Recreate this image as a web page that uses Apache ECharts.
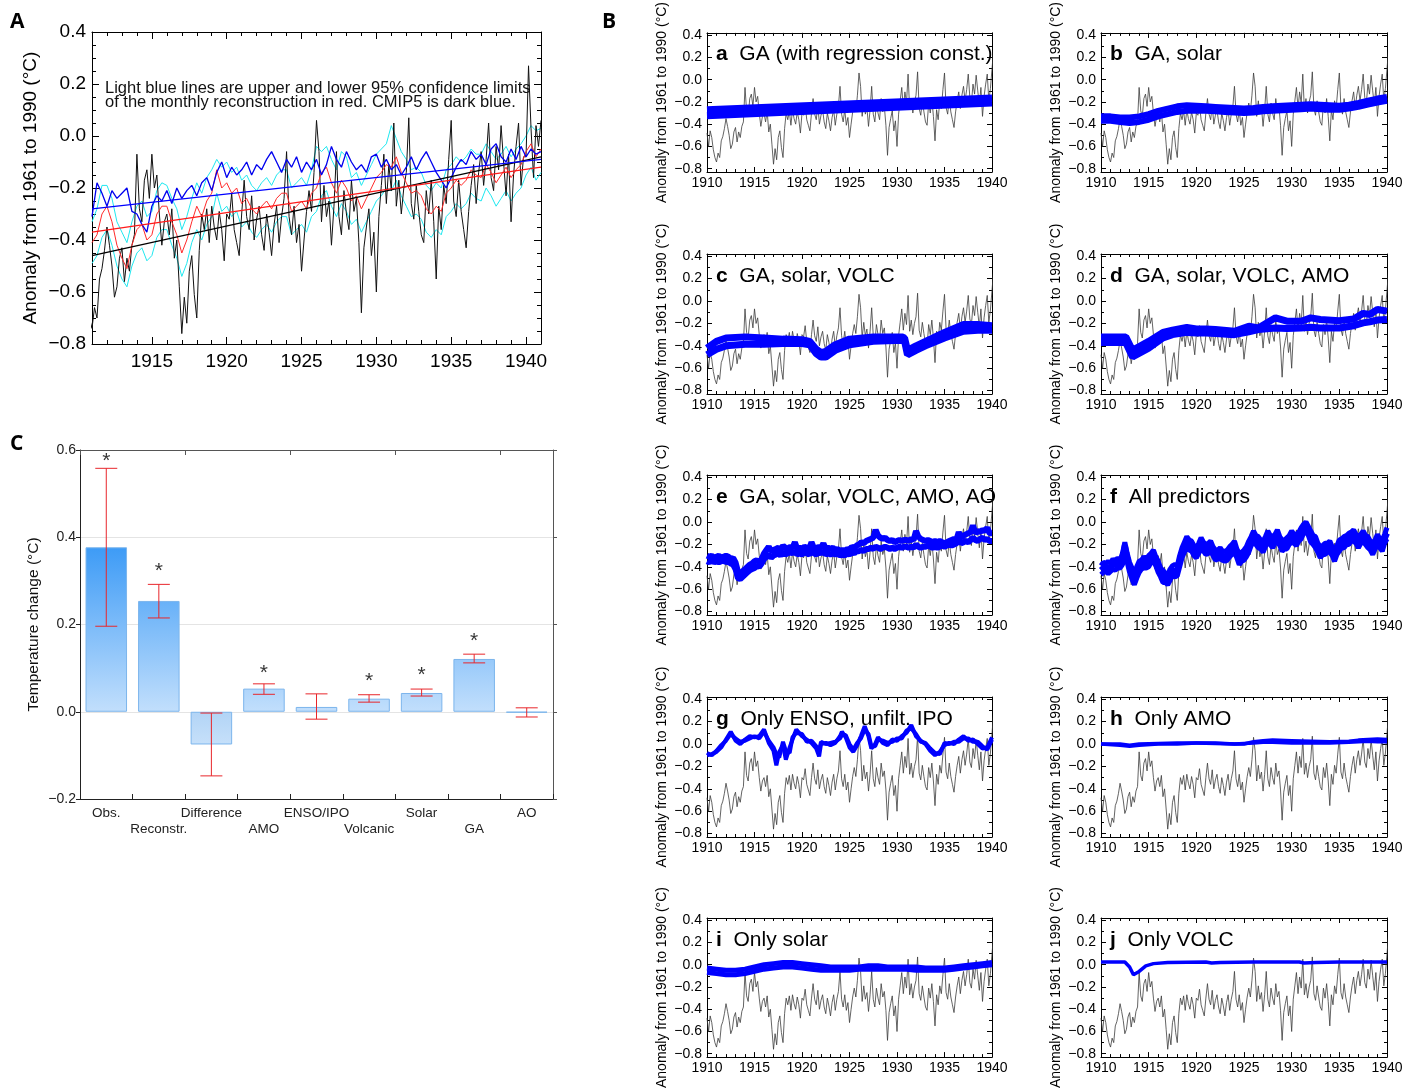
<!DOCTYPE html>
<html><head><meta charset="utf-8">
<script src="https://cdn.jsdelivr.net/npm/echarts@6/dist/echarts.min.js"></script>
<style>html,body{margin:0;padding:0;background:#fff}#c{width:1412px;height:1090px}</style>
</head><body><div id="c"></div>
<script>
// ---------------- DATA ----------------
// observed monthly-ish anomaly (6 samples per year from 1910.0)
const obsStart = 1910, obsPerYear = 6;
const obs = [
 -0.48,-0.60,-0.46,-0.52,-0.63,-0.70,
 -0.74,-0.66,-0.70,-0.55,-0.51,-0.44,
 -0.35,-0.42,-0.50,-0.62,-0.58,-0.47,
 -0.43,-0.56,-0.47,-0.52,-0.42,-0.38,
 -0.07,-0.28,-0.33,-0.17,-0.13,-0.24,
 -0.07,-0.20,-0.15,-0.30,-0.42,-0.33,
 -0.30,-0.38,-0.28,-0.47,-0.40,-0.58,
 -0.76,-0.62,-0.72,-0.52,-0.46,-0.61,
 -0.70,-0.44,-0.30,-0.36,-0.28,-0.41,
 -0.27,-0.35,-0.40,-0.29,-0.36,-0.48,
 -0.30,-0.32,-0.22,-0.36,-0.41,-0.46,
 -0.30,-0.17,-0.31,-0.36,-0.23,-0.40,
 -0.32,-0.27,-0.38,-0.44,-0.30,-0.37,
 -0.46,-0.34,-0.27,-0.41,-0.31,-0.24,
 -0.06,-0.31,-0.38,-0.27,-0.41,-0.34,
 -0.52,-0.40,-0.29,-0.21,-0.29,-0.14,
  0.06,-0.06,-0.33,-0.19,-0.31,-0.25,
 -0.42,-0.27,-0.06,-0.31,-0.38,-0.21,
 -0.30,-0.36,-0.17,-0.29,-0.24,-0.41,
 -0.68,-0.43,-0.35,-0.28,-0.46,-0.37,
 -0.60,-0.31,-0.19,-0.07,-0.26,-0.11,
 -0.21, 0.05,-0.27,-0.17,-0.30,-0.20,
 -0.14, 0.07,-0.26,-0.32,-0.19,-0.29,
 -0.38,-0.41,-0.21,-0.30,-0.17,-0.33,
 -0.55,-0.27,-0.36,-0.19,-0.26,-0.09,
  0.06,-0.25,-0.31,-0.17,-0.29,-0.36,
 -0.43,-0.29,-0.19,-0.11,-0.26,-0.14,
 -0.06,-0.19,-0.09, 0.05,-0.16,-0.21,
 -0.04,-0.13, 0.04,-0.10,-0.23,-0.07,
 -0.33,-0.15,-0.04, 0.05,-0.19,-0.08,
 -0.08, 0.27, 0.03,-0.16, 0.04,-0.04,
  0.06
];
// Panel A (3 samples per year from 1911.0)
const aStart = 1911, aPerYear = 3;
const recRed = [
 -0.41,-0.38,-0.30, -0.27,-0.33,-0.42, -0.47,-0.51,-0.42, -0.36,-0.34,-0.40,
 -0.38,-0.30,-0.27, -0.27,-0.33,-0.38, -0.45,-0.40,-0.33, -0.27,-0.31,-0.25,
 -0.22,-0.13,-0.20, -0.18,-0.22,-0.20, -0.26,-0.24,-0.28, -0.30,-0.27,-0.25,
 -0.28,-0.24,-0.22, -0.22,-0.29,-0.27, -0.25,-0.28,-0.22, -0.20,-0.14,-0.12,
 -0.18,-0.22,-0.17, -0.20,-0.25,-0.23, -0.28,-0.24,-0.20, -0.16,-0.14,-0.11,
 -0.12,-0.08,-0.14, -0.18,-0.22,-0.21, -0.23,-0.28,-0.30, -0.27,-0.29,-0.22,
 -0.20,-0.17,-0.19, -0.17,-0.13,-0.15, -0.16,-0.11,-0.14, -0.18,-0.15,-0.12,
 -0.16,-0.13,-0.11, -0.06,-0.03,-0.08, -0.05
];
const ciHi = [
 -0.33,-0.28,-0.19, -0.19,-0.24,-0.33, -0.37,-0.41,-0.33, -0.27,-0.25,-0.31,
 -0.29,-0.21,-0.18, -0.19,-0.24,-0.28, -0.36,-0.31,-0.24, -0.18,-0.22,-0.16,
 -0.13,-0.09,-0.12, -0.10,-0.14,-0.12, -0.17,-0.15,-0.19, -0.21,-0.18,-0.16,
 -0.19,-0.15,-0.13, -0.13,-0.20,-0.18, -0.16,-0.19,-0.13, -0.04,-0.06,-0.04,
 -0.09,-0.13,-0.06, -0.08,-0.16,-0.14, -0.19,-0.15,-0.11, -0.07,-0.05,-0.03,
  0.04,-0.01,-0.06, -0.09,-0.13,-0.12, -0.14,-0.19,-0.21, -0.18,-0.20,-0.13,
 -0.11,-0.08,-0.10, -0.08,-0.05,-0.07, -0.07,-0.03,-0.06, -0.09,-0.07,-0.04,
 -0.08,-0.05,-0.03,  0.00, 0.04, 0.02, 0.03
];
const ciLo = [
 -0.49,-0.46,-0.39, -0.36,-0.42,-0.50, -0.55,-0.58,-0.50, -0.45,-0.43,-0.48,
 -0.46,-0.39,-0.36, -0.36,-0.42,-0.47, -0.54,-0.49,-0.41, -0.36,-0.40,-0.34,
 -0.31,-0.22,-0.29, -0.27,-0.31,-0.29, -0.35,-0.33,-0.37, -0.39,-0.36,-0.34,
 -0.37,-0.33,-0.31, -0.31,-0.38,-0.36, -0.34,-0.37,-0.31, -0.29,-0.23,-0.21,
 -0.27,-0.31,-0.26, -0.29,-0.34,-0.32, -0.37,-0.33,-0.29, -0.25,-0.23,-0.20,
 -0.21,-0.17,-0.23, -0.27,-0.31,-0.30, -0.32,-0.37,-0.39, -0.36,-0.38,-0.31,
 -0.29,-0.26,-0.28, -0.26,-0.22,-0.24, -0.25,-0.20,-0.23, -0.27,-0.24,-0.21,
 -0.25,-0.22,-0.20, -0.15,-0.12,-0.17, -0.14
];
const cmip5 = [
 -0.31,-0.18,-0.22, -0.27,-0.21,-0.24, -0.22,-0.20,-0.29, -0.30,-0.34,-0.37,
 -0.27,-0.23,-0.25, -0.21,-0.26,-0.20, -0.24,-0.21,-0.19, -0.23,-0.18,-0.16,
 -0.21,-0.14,-0.10, -0.16,-0.12,-0.15, -0.13,-0.10,-0.15, -0.11,-0.13,-0.09,
 -0.06,-0.10,-0.14, -0.09,-0.12,-0.08, -0.14,-0.10,-0.13, -0.09,-0.15,-0.11,
 -0.04,-0.09,-0.12, -0.06,-0.10,-0.13, -0.11,-0.14,-0.08, -0.07,-0.12,-0.09,
 -0.13,-0.11,-0.15, -0.12,-0.08,-0.13, -0.09,-0.06,-0.10, -0.14,-0.17,-0.20,
 -0.16,-0.12,-0.09, -0.11,-0.06,-0.09, -0.07,-0.11,-0.05, -0.03,-0.08,-0.10,
 -0.05,-0.09,-0.04, -0.08,-0.05,-0.07, -0.06
];
const trendYears = [1911, 1941];
const trendObs = [-0.46, -0.08];
const trendRec = [-0.37, -0.12];
const trendCmip = [-0.28, -0.09];

// Panel B ensembles
const aYears = [1910, 1940];
const a1 = [-0.27, -0.165];
const a2 = [-0.325, -0.21];

const yearly = [1910,1911,1912,1913,1914,1915,1916,1917,1918,1919,1920,1921,1922,1923,1924,1925,1926,1927,1928,1929,1930,1931,1932,1933,1934,1935,1936,1937,1938,1939,1940];
const b1 = [-0.33,-0.33,-0.34,-0.34,-0.33,-0.31,-0.28,-0.26,-0.24,-0.23,-0.235,-0.24,-0.245,-0.25,-0.255,-0.26,-0.255,-0.245,-0.24,-0.235,-0.23,-0.225,-0.22,-0.225,-0.23,-0.235,-0.225,-0.21,-0.19,-0.17,-0.155];
const b2 = [-0.37,-0.37,-0.38,-0.39,-0.38,-0.36,-0.33,-0.31,-0.29,-0.28,-0.28,-0.28,-0.285,-0.29,-0.295,-0.30,-0.295,-0.285,-0.28,-0.275,-0.27,-0.265,-0.26,-0.265,-0.27,-0.27,-0.26,-0.245,-0.225,-0.205,-0.19];

const cYears = [1910,1911,1912,1914,1916,1918,1920,1920.8,1921.5,1922,1922.5,1923.5,1925,1927.5,1930.5,1930.8,1931.1,1932,1933,1935,1937,1938.5,1940];
const c1 = [-0.42,-0.36,-0.33,-0.32,-0.33,-0.34,-0.345,-0.36,-0.43,-0.46,-0.45,-0.39,-0.34,-0.32,-0.32,-0.33,-0.44,-0.40,-0.36,-0.28,-0.21,-0.21,-0.22];
const c2 = [-0.48,-0.43,-0.40,-0.385,-0.385,-0.38,-0.38,-0.39,-0.47,-0.50,-0.50,-0.44,-0.39,-0.36,-0.35,-0.36,-0.48,-0.44,-0.40,-0.33,-0.27,-0.26,-0.26];

const dYears = [1910,1912.6,1913.3,1915,1916.5,1917.5,1919,1920,1921,1922,1924,1925.5,1926.5,1928.3,1929.5,1931,1932,1933,1935,1936.5,1937.5,1938.2,1939,1940];
const d1 = [-0.32,-0.32,-0.44,-0.36,-0.28,-0.26,-0.235,-0.25,-0.25,-0.255,-0.27,-0.225,-0.24,-0.15,-0.18,-0.18,-0.15,-0.165,-0.175,-0.16,-0.11,-0.12,-0.075,-0.09];
const d2 = [-0.37,-0.37,-0.50,-0.42,-0.33,-0.30,-0.28,-0.285,-0.285,-0.29,-0.30,-0.275,-0.255,-0.24,-0.245,-0.24,-0.235,-0.24,-0.24,-0.22,-0.195,-0.185,-0.17,-0.165];

// quarterly (4 per year from 1910.0)
const qStart = 1910, qPerYear = 4;
const e1 = [
 -0.30,-0.31,-0.30,-0.32, -0.31,-0.30,-0.32,-0.31, -0.30,-0.31,-0.33,-0.32, -0.36,-0.44,-0.46,-0.44,
 -0.42,-0.40,-0.38,-0.37, -0.35,-0.34,-0.36,-0.33, -0.28,-0.25,-0.22,-0.26, -0.25,-0.24,-0.23,-0.25,
 -0.21,-0.23,-0.24,-0.22, -0.23,-0.18,-0.24,-0.23, -0.24,-0.22,-0.23,-0.24, -0.18,-0.23,-0.24,-0.22,
 -0.23,-0.19,-0.24,-0.23, -0.24,-0.23,-0.25,-0.24, -0.26,-0.25,-0.26,-0.24, -0.25,-0.22,-0.23,-0.21,
 -0.20,-0.18,-0.19,-0.17, -0.16,-0.15,-0.14,-0.07, -0.12,-0.14,-0.15,-0.14, -0.16,-0.17,-0.16,-0.18,
 -0.17,-0.16,-0.17,-0.16, -0.16,-0.17,-0.15,-0.16, -0.08,-0.13,-0.15,-0.16, -0.17,-0.16,-0.17,-0.18,
 -0.17,-0.18,-0.17,-0.18, -0.19,-0.18,-0.17,-0.16, -0.15,-0.16,-0.09,-0.14, -0.12,-0.11,-0.10,-0.09,
 -0.03,-0.10,-0.08,-0.09, -0.07,-0.08,-0.05,-0.10, -0.10
];
const e2 = [
 -0.35,-0.36,-0.34,-0.36, -0.35,-0.36,-0.35,-0.34, -0.36,-0.35,-0.37,-0.38, -0.42,-0.50,-0.51,-0.49,
 -0.47,-0.45,-0.43,-0.42, -0.41,-0.39,-0.40,-0.37, -0.33,-0.31,-0.29,-0.32, -0.30,-0.29,-0.28,-0.30,
 -0.27,-0.29,-0.28,-0.27, -0.28,-0.26,-0.29,-0.28, -0.29,-0.27,-0.28,-0.29, -0.26,-0.28,-0.29,-0.27,
 -0.28,-0.26,-0.29,-0.28, -0.29,-0.28,-0.29,-0.28, -0.30,-0.29,-0.30,-0.28, -0.29,-0.27,-0.28,-0.26,
 -0.26,-0.25,-0.26,-0.24, -0.24,-0.23,-0.24,-0.22, -0.23,-0.24,-0.23,-0.22, -0.23,-0.24,-0.23,-0.24,
 -0.23,-0.22,-0.23,-0.22, -0.22,-0.23,-0.22,-0.23, -0.20,-0.22,-0.23,-0.22, -0.22,-0.21,-0.22,-0.23,
 -0.22,-0.23,-0.22,-0.21, -0.22,-0.21,-0.20,-0.21, -0.20,-0.19,-0.16,-0.19, -0.18,-0.17,-0.18,-0.16,
 -0.14,-0.16,-0.17,-0.15, -0.14,-0.16,-0.15,-0.17, -0.17
];
const fMid = [
 -0.43,-0.41,-0.40,-0.41, -0.40,-0.38,-0.38,-0.37, -0.37,-0.33,-0.21,-0.32, -0.40,-0.46,-0.52,-0.45,
 -0.40,-0.38,-0.36,-0.37, -0.35,-0.32,-0.30,-0.35, -0.40,-0.45,-0.49,-0.50, -0.52,-0.47,-0.43,-0.44,
 -0.43,-0.35,-0.28,-0.22, -0.18,-0.20,-0.22,-0.25, -0.28,-0.23,-0.19,-0.22, -0.25,-0.23,-0.22,-0.26,
 -0.30,-0.29,-0.28,-0.30, -0.31,-0.29,-0.27,-0.24, -0.22,-0.28,-0.33,-0.31, -0.30,-0.26,-0.22,-0.17,
 -0.13,-0.16,-0.18,-0.20, -0.22,-0.17,-0.13,-0.16, -0.18,-0.15,-0.12,-0.17, -0.21,-0.20,-0.19,-0.16,
 -0.13,-0.15,-0.16,-0.13, -0.10,-0.06,-0.03,-0.08, -0.13,-0.16,-0.18,-0.23, -0.27,-0.25,-0.24,-0.23,
 -0.22,-0.26,-0.30,-0.25, -0.21,-0.19,-0.18,-0.16, -0.15,-0.13,-0.12,-0.15, -0.18,-0.15,-0.13,-0.16,
 -0.18,-0.21,-0.24,-0.20, -0.16,-0.19,-0.21,-0.15, -0.10
];
const f1 = [
 -0.39,-0.36,-0.37,-0.35, -0.37,-0.33,-0.35,-0.32, -0.34,-0.28,-0.18,-0.28, -0.36,-0.41,-0.47,-0.40,
 -0.35,-0.34,-0.31,-0.33, -0.30,-0.28,-0.25,-0.31, -0.35,-0.41,-0.43,-0.46, -0.47,-0.42,-0.39,-0.38,
 -0.39,-0.30,-0.23,-0.18, -0.13,-0.16,-0.17,-0.21, -0.23,-0.19,-0.14,-0.18, -0.20,-0.19,-0.17,-0.22,
 -0.25,-0.25,-0.23,-0.26, -0.26,-0.25,-0.22,-0.20, -0.17,-0.24,-0.28,-0.27, -0.25,-0.22,-0.17,-0.13,
 -0.08,-0.12,-0.13,-0.16, -0.17,-0.13,-0.08,-0.12, -0.13,-0.11,-0.07,-0.13, -0.16,-0.16,-0.14,-0.12,
 -0.08,-0.11,-0.11,-0.09, -0.05,-0.02, 0.00,-0.04, -0.08,-0.12,-0.13,-0.19, -0.22,-0.21,-0.19,-0.19,
 -0.17,-0.22,-0.25,-0.21, -0.16,-0.15,-0.13,-0.12, -0.10,-0.09,-0.07,-0.11, -0.13,-0.11,-0.08,-0.12,
 -0.13,-0.17,-0.19,-0.16, -0.11,-0.15,-0.16,-0.11, -0.05
];
const f2 = [
 -0.47,-0.45,-0.44,-0.46, -0.44,-0.42,-0.43,-0.41, -0.41,-0.38,-0.26,-0.36, -0.45,-0.51,-0.56,-0.50,
 -0.45,-0.42,-0.41,-0.41, -0.40,-0.36,-0.35,-0.39, -0.45,-0.49,-0.54,-0.54, -0.56,-0.52,-0.47,-0.49,
 -0.48,-0.40,-0.32,-0.27, -0.23,-0.25,-0.26,-0.30, -0.32,-0.28,-0.24,-0.26, -0.29,-0.28,-0.26,-0.30,
 -0.34,-0.33,-0.33,-0.34, -0.35,-0.34,-0.31,-0.29, -0.27,-0.32,-0.38,-0.35, -0.34,-0.31,-0.27,-0.21,
 -0.18,-0.20,-0.23,-0.24, -0.27,-0.22,-0.18,-0.20, -0.23,-0.19,-0.17,-0.21, -0.26,-0.24,-0.24,-0.20,
 -0.18,-0.19,-0.21,-0.17, -0.15,-0.10,-0.07,-0.12, -0.18,-0.20,-0.23,-0.27, -0.32,-0.29,-0.29,-0.27,
 -0.27,-0.30,-0.35,-0.29, -0.26,-0.23,-0.23,-0.20, -0.20,-0.17,-0.17,-0.19, -0.23,-0.19,-0.18,-0.20,
 -0.23,-0.25,-0.29,-0.24, -0.21,-0.23,-0.26,-0.19, -0.15
];

const gYears = [1910,1910.5,1911,1911.5,1912,1912.5,1913,1913.5,1914,1914.5,
 1915,1915.5,1916,1916.5,1917,1917.3,1917.6,1918,1918.3,1918.7,
 1919,1919.4,1920,1920.5,1921,1921.5,1921.8,1922,1922.5,1923,
 1923.5,1924,1924.2,1924.6,1925,1925.4,1925.8,1926.2,1926.6,1927,
 1927.3,1927.7,1928,1928.5,1929,1929.5,1930,1930.5,1931,1931.5,
 1932,1932.5,1933,1933.5,1934,1934.5,1935,1935.5,1936,1936.5,
 1937,1937.5,1938,1938.5,1939,1939.5,1940];
const g1 = [-0.10,-0.09,-0.07,-0.03,0.04,0.11,0.03,0.00,0.04,0.07,
 0.06,0.07,0.13,0.01,-0.06,-0.19,-0.07,-0.01,-0.14,-0.03,
 0.04,0.13,0.07,0.04,0.01,-0.04,-0.11,0.00,0.01,-0.01,
 0.01,0.07,0.11,0.06,-0.03,-0.07,-0.01,0.07,0.16,0.07,
 -0.04,0.00,0.06,0.01,-0.01,0.04,0.03,0.07,0.10,0.17,
 0.07,0.03,0.00,-0.06,-0.10,-0.07,-0.01,0.01,0.00,0.04,
 0.07,0.03,0.04,0.00,-0.04,-0.03,0.06];
const g2 = [-0.08,-0.10,-0.06,-0.01,0.03,0.09,0.05,0.02,0.03,0.05,
 0.07,0.05,0.11,0.03,-0.03,-0.09,-0.12,0.02,-0.06,-0.08,
 0.06,0.10,0.09,0.02,0.03,-0.02,-0.06,0.02,0.00,0.01,
 0.02,0.05,0.08,0.08,0.00,-0.05,0.01,0.05,0.13,0.09,
 -0.02,-0.02,0.04,0.03,0.01,0.02,0.05,0.05,0.12,0.14,
 0.09,0.02,0.01,-0.04,-0.08,-0.09,0.01,0.00,0.02,0.02,
 0.05,0.05,0.02,0.02,-0.02,-0.05,0.04];

const hYears = [1910,1912,1913,1914,1916,1918,1920,1922,1924,1925,1926,1927,1928,1930,1932,1934,1936,1937,1938,1939,1940];
const h1 = [0.00,-0.01,-0.02,-0.01,0.00,0.00,0.01,0.01,0.00,0.00,0.02,0.03,0.035,0.03,0.025,0.02,0.025,0.035,0.04,0.045,0.04];
const h2 = [0.00,0.00,-0.01,0.00,0.005,0.01,0.01,0.005,0.00,0.005,0.01,0.015,0.015,0.01,0.01,0.01,0.015,0.02,0.025,0.02,0.02];

const i1 = [-0.03,-0.04,-0.05,-0.05,-0.04,-0.02,0.00,0.01,0.02,0.02,0.01,0.00,-0.01,-0.02,-0.02,-0.02,-0.02,-0.01,-0.01,-0.02,-0.02,-0.02,-0.02,-0.03,-0.03,-0.03,-0.02,-0.01,0.00,0.01,0.02];
const i2 = [-0.07,-0.08,-0.09,-0.09,-0.08,-0.06,-0.04,-0.03,-0.02,-0.02,-0.03,-0.04,-0.05,-0.05,-0.05,-0.05,-0.04,-0.04,-0.04,-0.04,-0.04,-0.04,-0.05,-0.05,-0.05,-0.05,-0.04,-0.03,-0.02,-0.01,0.00];

const jYears = [1910,1912.5,1913,1913.4,1914,1914.7,1915.5,1917,1921,1921.6,1922.5,1926,1930.8,1931.3,1932.5,1935,1940];
const j1 = [0.025,0.025,-0.02,-0.09,-0.06,-0.01,0.01,0.02,0.025,0.015,0.02,0.025,0.025,0.015,0.02,0.025,0.025];

const panelLetters = ['a','b','c','d','e','f','g','h','i','j'];
const panelTitles = ['GA (with regression const.)','GA, solar','GA, solar, VOLC','GA, solar, VOLC, AMO',
  'GA, solar, VOLC, AMO, AO','All predictors','Only ENSO, unfilt. IPO','Only AMO','Only solar','Only VOLC'];

// Panel C
const barCats = ['Obs.','Reconstr.','Difference','AMO','ENSO/IPO','Volcanic','Solar','GA','AO'];
const barVals = [0.377, 0.254, -0.075, 0.053, 0.011, 0.030, 0.043, 0.121, -0.002];
const errLo = [0.196, 0.215, -0.147, 0.040, -0.017, 0.022, 0.036, 0.112, -0.012];
const errHi = [0.558, 0.292, -0.003, 0.064, 0.041, 0.039, 0.052, 0.132, 0.009];
const starY = [0.588, 0.337, null, 0.103, null, 0.084, 0.098, 0.175, null];

const yTicksA = [-0.8,-0.6,-0.4,-0.2,0,0.2,0.4];
const xTicksA = [1915,1920,1925,1930,1935,1940];
const yTicksB = [-0.8,-0.6,-0.4,-0.2,0,0.2,0.4];
const xTicksB = [1910,1915,1920,1925,1930,1935,1940];

// ---------------- BUILD ----------------
const FF = '"Liberation Sans", Arial, sans-serif';
const regYears = (s, p, n) => Array.from({length:n}, (_, k) => s + k / p);
const pairs = (xs, ys) => ys.map((v, k) => [xs[k], v]);
const fmt = v => (Math.abs(v) < 1e-9 ? '0.0' : v.toFixed(1)).replace('-', '\u2212');
const range = (a, b, s) => { const r = []; for (let v = a; v <= b + 1e-9; v += s) r.push(Math.round(v * 1000) / 1000); return r; };

const grids = [], xAxes = [], yAxes = [], series = [], titles = [];

function addFrame(o) {
  const gi = grids.length;
  grids.push({left: o.left, top: o.top, width: o.width, height: o.height});
  const xi = xAxes.length, yi = yAxes.length;
  const lineOn = {show: true, onZero: false, lineStyle: {color: '#000', width: 1}};
  const lineOff = {show: false, onZero: false};
  const tick = (vals, len) => ({show: true, inside: true, length: len, customValues: vals, lineStyle: {color: '#000', width: 1}});
  const base = (isX) => ({gridIndex: gi, type: 'value', min: isX ? o.xmin : o.ymin, max: isX ? o.xmax : o.ymax,
    splitLine: {show: false}, axisPointer: {show: false}});
  xAxes.push(Object.assign(base(true), {position: 'bottom', axisLine: lineOn, axisTick: tick(o.xMajor, o.majLen),
    axisLabel: {show: true, customValues: o.xMajor, fontSize: o.fs, fontFamily: FF, color: '#000', margin: o.xMargin,
      formatter: v => String(Math.round(v))}}));
  xAxes.push(Object.assign(base(true), {position: 'bottom', axisLine: lineOff, axisTick: tick(o.xMinor, o.minLen), axisLabel: {show: false}}));
  xAxes.push(Object.assign(base(true), {position: 'top', axisLine: lineOn, axisTick: tick(o.xMajor, o.majLen), axisLabel: {show: false}}));
  xAxes.push(Object.assign(base(true), {position: 'top', axisLine: lineOff, axisTick: tick(o.xMinor, o.minLen), axisLabel: {show: false}}));
  yAxes.push(Object.assign(base(false), {position: 'left', axisLine: lineOn, axisTick: tick(o.yMajor, o.majLen),
    axisLabel: {show: true, customValues: o.yMajor, fontSize: o.fs, fontFamily: FF, color: '#000', margin: o.yMargin, formatter: fmt},
    name: o.yName, nameLocation: 'middle', nameGap: o.nameGap, nameRotate: 90,
    nameTextStyle: {fontSize: o.nameFs, fontFamily: FF, color: '#000'}}));
  yAxes.push(Object.assign(base(false), {position: 'left', axisLine: lineOff, axisTick: tick(o.yMinor, o.minLen), axisLabel: {show: false}}));
  yAxes.push(Object.assign(base(false), {position: 'right', axisLine: lineOn, axisTick: tick(o.yMajor, o.majLen), axisLabel: {show: false}}));
  yAxes.push(Object.assign(base(false), {position: 'right', axisLine: lineOff, axisTick: tick(o.yMinor, o.minLen), axisLabel: {show: false}}));
  return {xi, yi};
}
function addLine(ax, data, color, width, z) {
  series.push({type: 'line', xAxisIndex: ax.xi, yAxisIndex: ax.yi, data, showSymbol: false, symbol: 'none',
    lineStyle: {color, width}, clip: true, silent: true, z: z || 2, animation: false});
}

// ----- Panel A -----
const axA = addFrame({left: 92, top: 32, width: 449, height: 312, xmin: 1911, xmax: 1941, ymin: -0.8, ymax: 0.4,
  xMajor: xTicksA, xMinor: range(1911, 1941, 1), yMajor: yTicksA, yMinor: range(-0.8, 0.4, 0.05),
  majLen: 7, minLen: 4, fs: 19, xMargin: 8, yMargin: 6,
  yName: 'Anomaly from 1961 to 1990 (\u00b0C)', nameGap: 52, nameFs: 19});
const aYrs = regYears(aStart, aPerYear, recRed.length);
const oYrs = regYears(obsStart, obsPerYear, obs.length);
addLine(axA, pairs(aYrs, ciHi), '#1ee8f0', 1, 2);
addLine(axA, pairs(aYrs, ciLo), '#1ee8f0', 1, 2);
addLine(axA, pairs(oYrs, obs), '#111', 1, 3);
addLine(axA, pairs(aYrs, recRed), '#ff2a2a', 1, 4);
addLine(axA, pairs(aYrs, cmip5), '#0000ee', 1.3, 5);
addLine(axA, pairs(trendYears, trendObs), '#000', 1.3, 6);
addLine(axA, pairs(trendYears, trendRec), '#ff1a1a', 1.3, 6);
addLine(axA, pairs(trendYears, trendCmip), '#0000ff', 1.3, 6);

// ----- Panel B -----
const colLeft = [707, 1101], colWidth = [285, 286], rowTop = [32, 254, 475, 697, 918];
const qYrs = regYears(qStart, qPerYear, e1.length);
const ens = [
  [[aYears, a1, 7], [aYears, a2, 7]],
  [[yearly, b1, 6], [yearly, b2, 6]],
  [[cYears, c1, 7], [cYears, c2, 7]],
  [[dYears, d1, 7], [dYears, d2, 7]],
  [[qYrs, e1, 6], [qYrs, e2, 6]],
  [[qYrs, fMid, 6], [qYrs, f1, 5], [qYrs, f2, 5]],
  [[gYears, g1, 4], [gYears, g2, 4]],
  [[hYears, h1, 3.5], [hYears, h2, 3.5]],
  [[yearly, i1, 5], [yearly, i2, 5]],
  [[jYears, j1, 3.5]]
];
for (let p = 0; p < 10; p++) {
  const col = p % 2, row = Math.floor(p / 2);
  const ax = addFrame({left: colLeft[col], top: rowTop[row], width: colWidth[col], height: 140,
    xmin: 1910, xmax: 1940, ymin: -0.83, ymax: 0.42,
    xMajor: xTicksB, xMinor: range(1910, 1940, 1), yMajor: yTicksB, yMinor: range(-0.8, 0.4, 0.1),
    majLen: 5, minLen: 3, fs: 14, xMargin: 4, yMargin: 5,
    yName: 'Anomaly from 1961 to 1990 (\u00b0C)', nameGap: 38, nameFs: 14});
  addLine(ax, pairs(oYrs, obs), '#3c3c3c', 0.8, 2);
  ens[p].forEach(([xs, ys, w]) => addLine(ax, pairs(xs, ys), '#0000ff', w, 3));
  titles.push({left: colLeft[col] + 9, top: rowTop[row] + 12, padding: 0, z: 10,
    text: '{l|' + panelLetters[p] + '}  ' + panelTitles[p],
    textStyle: {fontSize: 21, fontFamily: FF, color: '#000', fontWeight: 'normal',
      rich: {l: {fontSize: 21, fontFamily: FF, fontWeight: 'bold', color: '#000'}}}});
}

// ----- Panel C -----
const gC = grids.length;
grids.push({left: 80, top: 450, width: 473, height: 349});
const cx = xAxes.length, cy = yAxes.length;
xAxes.push({gridIndex: gC, type: 'category', data: barCats, position: 'bottom',
  axisLine: {show: true, onZero: false, lineStyle: {color: '#222'}},
  axisTick: {show: true, inside: true, length: 5, lineStyle: {color: '#222'}},
  axisLabel: {interval: 0, fontSize: 13.5, fontFamily: FF, color: '#222', margin: 6, lineHeight: 16,
    formatter: (v, k) => (k % 2 ? '\n' + v : v)}});
xAxes.push({gridIndex: gC, type: 'category', data: barCats, position: 'top',
  axisLine: {show: true, onZero: false, lineStyle: {color: '#555'}},
  axisTick: {show: true, inside: true, length: 5, lineStyle: {color: '#555'}}, axisLabel: {show: false}});
yAxes.push({gridIndex: gC, type: 'value', min: -0.2, max: 0.6, interval: 0.2, position: 'left',
  axisLine: {show: true, onZero: false, lineStyle: {color: '#222'}}, axisTick: {show: true, length: 4, lineStyle: {color: '#222'}},
  axisLabel: {fontSize: 14, fontFamily: FF, color: '#222', margin: 4, formatter: fmt},
  splitLine: {show: true, lineStyle: {color: '#e4e4e4', width: 1}},
  name: 'Temperature change (\u00b0C)', nameLocation: 'middle', nameGap: 38, nameRotate: 90,
  nameTextStyle: {fontSize: 15.5, fontFamily: FF, color: '#111'}});
yAxes.push({gridIndex: gC, type: 'value', min: -0.2, max: 0.6, interval: 0.2, position: 'right',
  axisLine: {show: true, onZero: false, lineStyle: {color: '#555'}}, axisTick: {show: true, length: 4, lineStyle: {color: '#555'}},
  axisLabel: {show: false}, splitLine: {show: false}});

const mix = (a, b, t) => {
  const pa = [1, 3, 5].map(k => parseInt(a.substr(k, 2), 16)), pb = [1, 3, 5].map(k => parseInt(b.substr(k, 2), 16));
  return 'rgb(' + pa.map((v, k) => Math.round(v + (pb[k] - v) * t)).join(',') + ')';
};
const light = '#c2dffc', dark = '#3d9bf6';
series.push({type: 'bar', xAxisIndex: cx, yAxisIndex: cy, barWidth: '79%', silent: true, animation: false, z: 2,
  data: barVals.map(v => {
    const top = v >= 0 ? mix(light, dark, Math.min(1, v / 0.377)) : '#b2d4f6';
    const bot = v >= 0 ? light : '#c6e0fa';
    return {value: v, itemStyle: {borderColor: '#7cb5ec', borderWidth: 1,
      color: new echarts.graphic.LinearGradient(0, 0, 0, 1, [{offset: 0, color: top}, {offset: 1, color: bot}])}};
  })});
series.push({type: 'custom', xAxisIndex: cx, yAxisIndex: cy, silent: true, animation: false, z: 5,
  data: barCats.map((c, k) => [k, errLo[k], errHi[k]]),
  encode: {x: 0, y: [1, 2]},
  renderItem: (params, api) => {
    const x = api.value(0), lo = api.value(1), hi = api.value(2);
    const p1 = api.coord([x, hi]), p2 = api.coord([x, lo]);
    const w = 11, st = {stroke: '#e8262b', lineWidth: 1};
    return {type: 'group', children: [
      {type: 'line', shape: {x1: p1[0], y1: p1[1], x2: p2[0], y2: p2[1]}, style: st},
      {type: 'line', shape: {x1: p1[0] - w, y1: p1[1], x2: p1[0] + w, y2: p1[1]}, style: st},
      {type: 'line', shape: {x1: p2[0] - w, y1: p2[1], x2: p2[0] + w, y2: p2[1]}, style: st}]};
  }});
series.push({type: 'scatter', xAxisIndex: cx, yAxisIndex: cy, silent: true, animation: false, z: 6,
  symbol: 'circle', symbolSize: 1, itemStyle: {color: 'rgba(0,0,0,0)'},
  data: starY.map((v, k) => (v == null ? null : [k, v])).filter(Boolean),
  label: {show: true, position: 'inside', formatter: '*', fontSize: 21, fontFamily: FF, color: '#000', offset: [0, 6]}});

const chart = echarts.init(document.getElementById('c'), null, {renderer: 'canvas'});
chart.setOption({
  animation: false,
  backgroundColor: '#fff',
  grid: grids, xAxis: xAxes, yAxis: yAxes, series, title: titles,
  graphic: [
    {type: 'text', left: 10, top: 12, style: {text: 'A', font: 'bold 21px "Open Sans", sans-serif', fill: '#000'}},
    {type: 'text', left: 602, top: 12, style: {text: 'B', font: 'bold 21px "Open Sans", sans-serif', fill: '#000'}},
    {type: 'text', left: 10, top: 434, style: {text: 'C', font: 'bold 21px "Open Sans", sans-serif', fill: '#000'}},
    {type: 'text', left: 105, top: 80, z: 10, style: {text: 'Light blue lines are upper and lower 95% confidence limits\nof the monthly reconstruction in red. CMIP5 is dark blue.',
      font: '16.5px "Liberation Sans", Arial, sans-serif', fill: '#111', lineHeight: 14}}
  ]
});
</script></body></html>
